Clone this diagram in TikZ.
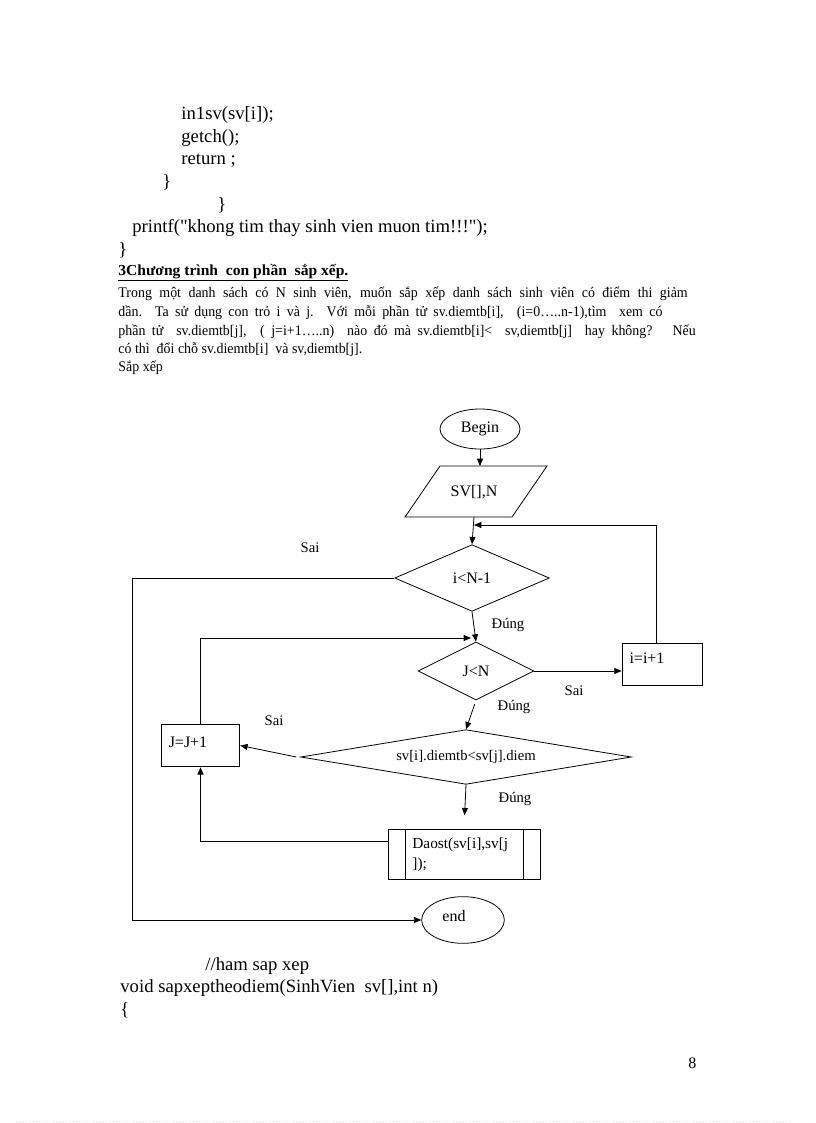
\documentclass[tikz,border=0pt]{standalone}
\usepackage{graphicx}
\usepackage{fontspec}
\setmainfont{Liberation Serif}
\newfontfamily\codefont{Liberation Serif}
\usetikzlibrary{shapes.geometric,arrows.meta,calc}
\newcommand\condline[2]{\scalebox{0.95}[1]{\makebox[#1][s]{#2}}}
\begin{document}
\begin{tikzpicture}[x=0.75pt,y=-0.75pt,
  line width=0.6pt,
  arr/.style={-{Triangle[length=5.5pt,width=4.5pt]}},
  flow/.style={draw,inner sep=0pt,font=\fontsize{12}{14}\selectfont},
  ell/.style={flow,ellipse},
  dia/.style={flow,diamond},
  box/.style={flow,rectangle},
  lab/.style={inner sep=0pt,font=\fontsize{11}{13}\selectfont},
  code/.style={anchor=base west,inner sep=0pt,font=\codefont\fontsize{14}{16}\selectfont},
  para/.style={anchor=base west,inner sep=0pt,font=\fontsize{11}{13}\selectfont},
]
\path[use as bounding box,fill=white] (0,0) rectangle (816,1123);

% ---- top code ----
\node[code] (c1) at (181,120) {in1sv(sv[i]);};
\node[code] (c2) at (181,143) {getch();};
\node[code] (c3) at (181,165) {return ;};
\node[code] (c4) at (162,188) {\}};
\node[code] (c5) at (217,210) {\}};
\node[code] (c6) at (132,233) {printf("khong tim thay sinh vien muon tim!!!");};
\node[code] (c7) at (118,255) {\}};

% ---- heading and paragraph ----
\node[para,font=\fontsize{11.5}{13}\selectfont\bfseries] (h1) at (118,275) {\underline{\resizebox{172.5pt}{\height}{3Chương trình\ \ con phần\ \ sắp xếp.}}};
\node[para] (p1) at (118,297) {\condline{449.5pt}{Trong một danh sách có N sinh viên, muốn sắp xếp danh sách sinh viên có điểm thi giảm}};
\node[para] (p2) at (118,316) {\condline{429.5pt}{dần. Ta sử dụng con trỏ i và j. Với mỗi phần tử sv.diemtb[i], \ (i=0…..n-1),tìm \ xem có}};
\node[para] (p3) at (118,335) {\condline{455.8pt}{phần tử \ sv.diemtb[j], \ ( j=i+1…..n) \ nào đó mà sv.diemtb[i]< \ sv,diemtb[j] \ hay không? \ Nếu}};
\node[para] (p4) at (118,353) {\scalebox{0.95}[1]{có thì \ đổi chỗ sv.diemtb[i] \ và sv,diemtb[j].}};
\node[para] (p5) at (118,371) {\scalebox{0.95}[1]{Sắp xếp}};

% ---- flowchart ----
\node[ell,minimum width=60pt,minimum height=30pt] (begin) at (480,429) {Begin};
\draw (440,466) coordinate (pTL) -- (547,466) -- (512,517) -- (405,517) -- cycle;
\node[inner sep=0pt,font=\fontsize{12}{14}\selectfont] (svn) at (474,492) {SV[],N};
\coordinate (pTop) at (480,466);
\coordinate (pBot) at (474,517);

\node[dia,aspect=2.3,minimum width=116pt,minimum height=50pt] (dIN) at (472,578) {i<N-1\hspace{14pt}};
\node[dia,aspect=2,minimum width=87pt,minimum height=43.5pt] (dJN) at (476,671) {J<N\hspace{10pt}};
\node[dia,aspect=6,minimum width=248pt,minimum height=41pt,font=\fontsize{11}{12}\selectfont] (dSV) at (466,757) {sv[i].diemtb<sv[j].diem\hspace{12pt}};

\node[box,minimum width=60pt,minimum height=31.5pt] (boxI) at (662,664) {};
\node[inner sep=0pt,font=\fontsize{12}{14}\selectfont] (tI) at (647,658) {i=i+1};
\node[box,minimum width=59pt,minimum height=32pt] (boxJ) at (200.5,745.5) {};
\node[inner sep=0pt,font=\fontsize{12}{14}\selectfont] (tJ) at (188,742) {J=J+1};

\node[box,minimum width=114pt,minimum height=37.5pt] (daost) at (464,854) {};
\draw (405,829) -- (405,879) (523,829) -- (523,879);
\node[anchor=north west,inner sep=0pt,align=left,font=\fontsize{11.5}{15.5}\selectfont] (tD) at (412,837) {Daost(sv[i],sv[j\\]);};

\node[ell,minimum width=62pt,minimum height=35pt] (end) at (463,920) {};
\node[inner sep=0pt,font=\fontsize{12}{14}\selectfont] (tE) at (454,916) {end};

% connectors
\draw[arr] (begin.south) -- (pTop);
\draw[arr] (pBot) -- (dIN.north);
\coordinate (loopIn) at (474,525);
\draw[arr] ([xshift=-4.5pt]boxI.north) |- (loopIn);
\coordinate (cL) at (132,578);
\draw[arr] (dIN.west) -- (cL) |- (end.west);
\draw[arr] (dIN.south) -- (dJN.north);
\coordinate (jIn) at (471,638);
\draw[arr] (boxJ.north) |- (jIn);
\draw[arr] (dJN.east) -- (dJN.east -| boxI.west);
\draw[arr,shorten <=3pt] (dJN.south) -- (dSV.north);
\draw[arr] ([xshift=-3pt]dSV.west) -- (boxJ.east);
\draw[arr,shorten >=10pt] (dSV.south) -- (daost.north);
\draw[arr] ([yshift=9.5pt]daost.west) -| (boxJ.south);

% labels
\node[lab] (l1) at (310,548) {Sai};
\node[lab] (l2) at (508,625) {Đúng};
\node[lab] (l3) at (574,691) {Sai};
\node[lab] (l4) at (514,707) {Đúng};
\node[lab] (l5) at (274,721) {Sai};
\node[lab] (l6) at (515,799) {Đúng};

% ---- bottom code ----
\node[code] (b1) at (205,970) {//ham sap xep};
\node[code] (b2) at (120,992) {void sapxeptheodiem(SinhVien \ sv[],int n)};
\node[code] (b3) at (120,1015) {\{};
\node[code,font=\fontsize{12}{14}\selectfont] (pg) at (688,1068) {8};

\draw[gray!30,dotted,line width=0.5pt] (16,1121) -- (792,1121);
\end{tikzpicture}
\end{document}
